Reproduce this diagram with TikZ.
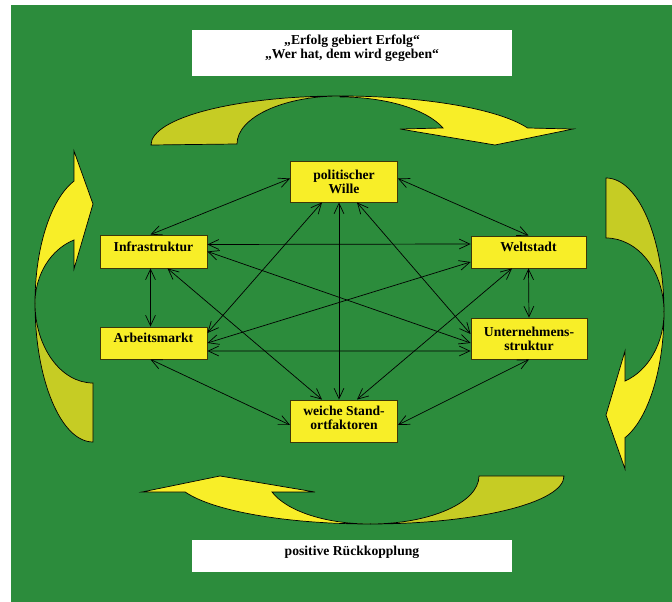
\documentclass[tikz,border=0pt]{standalone}
\usepackage{fontspec}
\setmainfont{Liberation Serif}
\usepackage{tkz-euclide}
\usepackage{tikz}
\usetikzlibrary{arrows.meta,calc}

\definecolor{gruen}{RGB}{44,140,60}
\definecolor{gelb}{RGB}{248,238,40}
\definecolor{oliv}{RGB}{198,204,36}
\definecolor{rand}{RGB}{60,55,10}

\begin{document}
\begin{tikzpicture}[x=0.025cm, y=-0.025cm,
    kasten/.style={draw=rand, fill=gelb, line width=0.6pt, align=center, inner sep=0pt,
        font=\bfseries\fontsize{9.7}{10}\selectfont},
    weiss/.style={fill=white, align=center, inner sep=0pt, font=\bfseries\fontsize{9.7}{10}\selectfont},
    einzeilig/.style={text height=7pt, text depth=7pt},
    band/.style={draw=black, line width=0.5pt},
    pfeil/.style={{Straight Barb[length=7.5pt,width=7pt]}-{Straight Barb[length=7.5pt,width=7pt]}, line width=0.5pt}]
    \useasboundingbox (0,0) rectangle (672,602);
    \fill[white] (0,0) rectangle (672,602);
    \fill[gruen] (11,5) rectangle (672,602);
    % Pfeilspitzen
    \tkzDefPoints{400/129/A,495/145/B,573/129/C,443/128/D}
    \tkzDefPoints{625/351/E,606/415/F,625/469/G,625/381/H}
    \tkzDefPoints{142/492/I,220/476/J,315/492/K,272/492/L}
    \tkzDefPoints{74/151/M,93/204/N,74/269/O,74/240/P}
    % oben
    \filldraw[band, fill=oliv] (151,145) arc[start angle=180, end angle=270, x radius=189, y radius=49]
        arc[start angle=270, end angle=180, x radius=103, y radius=48] -- cycle;
    \filldraw[band, fill=gelb] (340,96) arc[start angle=270, end angle=339.7, x radius=200, y radius=49]
        -- (C) -- (B) -- (A) -- (D) arc[start angle=339.3, end angle=270, x radius=110, y radius=48] -- cycle;
    % rechts
    \filldraw[band, fill=oliv] (606,178) arc[start angle=270, end angle=360, x radius=58, y radius=134]
        arc[start angle=0, end angle=-90, x radius=58, y radius=74] -- cycle;
    \filldraw[band, fill=gelb] (664,312) arc[start angle=0, end angle=70.9, x radius=58, y radius=133]
        -- (G) -- (F) -- (E) -- (H) arc[start angle=70.9, end angle=0, x radius=58, y radius=73] -- cycle;
    % unten
    \filldraw[band, fill=oliv] (564,476) arc[start angle=0, end angle=90, x radius=194, y radius=48]
        arc[start angle=90, end angle=0, x radius=109, y radius=48] -- cycle;
    \filldraw[band, fill=gelb] (370,524) arc[start angle=90, end angle=160.5, x radius=196, y radius=48]
        -- (I) -- (J) -- (K) -- (L) arc[start angle=160.5, end angle=90, x radius=104, y radius=48] -- cycle;
    % links
    \filldraw[band, fill=oliv] (93,442) arc[start angle=90, end angle=180, x radius=58, y radius=139]
        arc[start angle=180, end angle=90, x radius=58, y radius=80] -- cycle;
    \filldraw[band, fill=gelb] (35,303) arc[start angle=180, end angle=250.9, x radius=58, y radius=129]
        -- (M) -- (N) -- (O) -- (P) arc[start angle=250.9, end angle=180, x radius=58, y radius=67] -- cycle;

    \node[weiss, minimum width=8cm, minimum height=1.15cm, text depth=9pt] (spruch) at (352,53)
        {„Erfolg gebiert Erfolg“\\„Wer hat, dem wird gegeben“};
    \node[weiss, einzeilig, minimum width=8cm, minimum height=0.8cm] (rueck) at (352,556) {positive Rückkopplung};

    \node[kasten, minimum width=2.675cm, minimum height=1.025cm] (wille) at (344,181.5) {politischer\\Wille};
    \node[kasten, einzeilig, minimum width=2.675cm, minimum height=0.825cm] (infra) at (153.5,251.5) {Infrastruktur};
    \node[kasten, einzeilig, minimum width=2.875cm, minimum height=0.8cm] (welt) at (528.5,252) {Weltstadt};
    \node[kasten, einzeilig, minimum width=2.675cm, minimum height=0.8cm] (arbeit) at (153.5,343) {Arbeitsmarkt};
    \node[kasten, minimum width=2.9cm, minimum height=1.025cm] (untern) at (529,338.5) {Unternehmens-\\struktur};
    \node[kasten, text depth=4pt, minimum width=2.675cm, minimum height=1.05cm] (weiche) at (344,421) {weiche Stand-\\ortfaktoren};

    \draw[pfeil] ($(infra.north)+(-3,0)$) -- ($(wille.west)+(0,-3)$);
    \draw[pfeil] ($(wille.east)+(0,-3)$) -- (welt.north);
    \draw[pfeil] ($(infra.east)+(0,-7)$) -- ($(welt.west)+(0,-8)$);
    \draw[pfeil] (infra.east) -- ($(untern.west)+(0,4.5)$);
    \draw[pfeil] ($(infra.south)+(-3,0)$) -- ($(arbeit.north)+(-3,0)$);
    \draw[pfeil] ($(infra.south)+(14,0)$) -- ($(weiche.north)+(-22,0)$);
    \draw[pfeil] ($(wille.south)+(-22,0)$) -- ($(arbeit.east)+(0,-10)$);
    \draw[pfeil] ($(wille.south)+(-5,0)$) -- ($(weiche.north)+(-5,0)$);
    \draw[pfeil] ($(wille.south)+(13,0)$) -- ($(untern.west)+(0,-4.5)$);
    \draw[pfeil] ($(welt.west)+(0,10)$) -- (arbeit.east);
    \draw[pfeil] ($(welt.south)+(-16.5,0)$) -- ($(weiche.north)+(13,0)$);
    \draw[pfeil] (welt.south) -- (untern.north);
    \draw[pfeil] ($(arbeit.east)+(0,8)$) -- ($(untern.west)+(0,12.5)$);
    \draw[pfeil] ($(arbeit.south)+(-3,0)$) -- ($(weiche.west)+(0,4)$);
    \draw[pfeil] (untern.south) -- ($(weiche.east)+(0,4)$);
\end{tikzpicture}
\end{document}
